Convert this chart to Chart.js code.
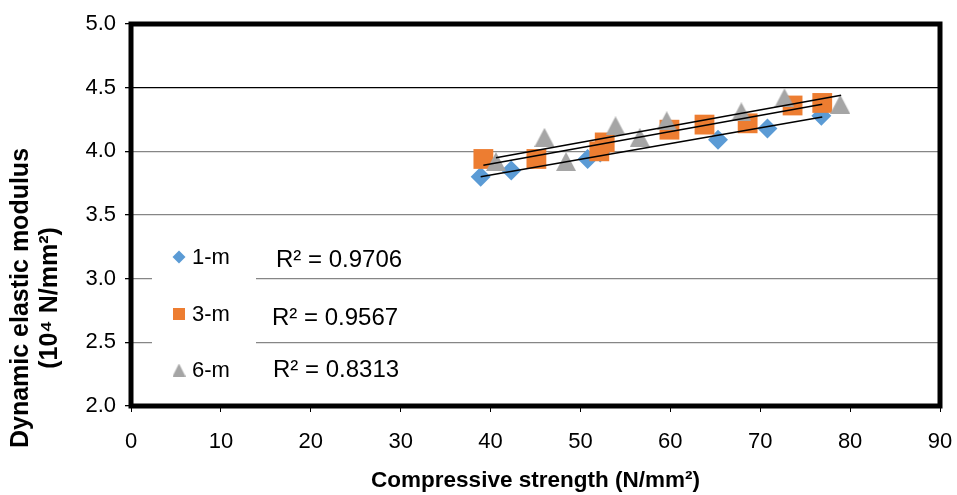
<!DOCTYPE html>
<html>
<head>
<meta charset="utf-8">
<script src="https://cdn.jsdelivr.net/npm/chart.js@4.4.1/dist/chart.umd.min.js"></script>
<style>
  html, body { margin: 0; padding: 0; background: #fff; }
</style>
</head>
<body>
<canvas id="chart" width="957" height="495"></canvas>
<script>
let x_1m = [38.9, 42.3, 50.8, 52.2, 65.3, 70.8, 76.8];
let y_1m = [3.80, 3.85, 3.94, 3.99, 4.09, 4.18, 4.28];

let x_3m = [39.2, 45.1, 52.1, 52.7, 59.9, 63.8, 68.6, 73.6, 76.9];
let y_3m = [3.94, 3.94, 4.00, 4.07, 4.17, 4.21, 4.22, 4.36, 4.38];

let x_6m = [40.6, 46.0, 48.4, 53.9, 56.6, 59.6, 67.9, 72.7, 78.9];
let y_6m = [3.92, 4.11, 3.92, 4.20, 4.11, 4.24, 4.31, 4.42, 4.37];

// trendline ends
let trend_1m = [[38.9, 3.80], [76.9, 4.27]];
let trend_3m = [[39.2, 3.89], [76.9, 4.37]];
let trend_6m = [[40.6, 3.95], [79.0, 4.44]];

let series_names = ['1-m', '3-m', '6-m'];
let r2_labels = ['R² = 0.9706', 'R² = 0.9567', 'R² = 0.8313'];

let x_title = 'Compressive strength (N/mm²)';
let y_title = ['Dynamic elastic modulus', '(10⁴ N/mm²)'];

let blue = '#5b9bd5';
let orange = '#ed7d31';
let gray = '#a5a5a5';
let font = '"Liberation Sans", Arial, sans-serif';

function points(xs, ys) {
  return xs.map((x, i) => ({x: x, y: ys[i]}));
}

function tri_marker(w, h, color) {
  let c = document.createElement('canvas');
  c.width = w;
  c.height = h;
  let g = c.getContext('2d');
  g.fillStyle = color;
  g.beginPath();
  g.moveTo(w / 2, 0);
  g.lineTo(w, h);
  g.lineTo(0, h);
  g.closePath();
  g.fill();
  return c;
}

let tri_big = tri_marker(20, 19, gray);
let tri_small = tri_marker(13, 13, gray);

function trend(pts) {
  return {
    type: 'line',
    data: pts.map(p => ({x: p[0], y: p[1]})),
    borderColor: '#000',
    borderWidth: 1.5,
    pointRadius: 0,
    showLine: true,
    fill: false,
    order: 0
  };
}

// stop the tick labels from pushing the plot area in
function no_pad(s) {
  s.paddingTop = 0;
  s.paddingBottom = 0;
  s.paddingLeft = 0;
  s.paddingRight = 0;
}

// white legend box, thick frame, legend and R2 text
let decor = {
  id: 'decor',
  beforeDatasetsDraw(chart) {
    let ctx = chart.ctx;
    let a = chart.chartArea;
    ctx.save();
    ctx.fillStyle = '#fff';
    ctx.fillRect(152, 232, 104, 166);
    ctx.strokeStyle = '#000';
    ctx.lineWidth = 5;
    ctx.strokeRect(a.left, a.top, a.right - a.left, a.bottom - a.top);
    ctx.restore();
  },
  afterDraw(chart) {
    let ctx = chart.ctx;
    let rows = [257, 314, 370];
    let styles = [
      {pointStyle: 'rectRot', radius: 6.5, rotation: 0, borderWidth: 0, color: blue},
      {pointStyle: 'rect', radius: 8.5, rotation: 0, borderWidth: 0, color: orange},
      {pointStyle: tri_small, radius: 6, rotation: 0, borderWidth: 0, color: gray}
    ];
    let r2_x = [276, 272, 273];
    let r2_y = [260, 318, 370];

    ctx.save();
    for (let i = 0; i < 3; ++i) {
      ctx.fillStyle = styles[i].color;
      Chart.helpers.drawPoint(ctx, styles[i], 179, rows[i]);
      ctx.fillStyle = '#000';
      ctx.font = '22px ' + font;
      ctx.textAlign = 'left';
      ctx.textBaseline = 'middle';
      ctx.fillText(series_names[i], 192, rows[i] + 1);
      ctx.font = '24px ' + font;
      ctx.fillText(r2_labels[i], r2_x[i], r2_y[i]);
    }

    ctx.font = 'bold 25px ' + font;
    ctx.textAlign = 'center';
    ctx.textBaseline = 'middle';
    ctx.translate(21, 298);
    ctx.rotate(-Math.PI / 2);
    ctx.fillText(y_title[0], 0, 0);
    ctx.fillText(y_title[1], 0, 29);
    ctx.restore();
  }
};

let ctx = document.getElementById('chart');

let chart = new Chart(ctx, {
  type: 'scatter',
  data: {
    datasets: [
      trend(trend_1m),
      trend(trend_3m),
      trend(trend_6m),
      {
        label: series_names[2],
        data: points(x_6m, y_6m),
        pointStyle: tri_big,
        pointRadius: 10,
        backgroundColor: gray,
        borderWidth: 0,
        order: 1
      },
      {
        label: series_names[1],
        data: points(x_3m, y_3m),
        pointStyle: 'rect',
        pointRadius: 14,
        backgroundColor: orange,
        borderWidth: 0,
        order: 2
      },
      {
        label: series_names[0],
        data: points(x_1m, y_1m),
        pointStyle: 'rectRot',
        pointRadius: 10,
        backgroundColor: blue,
        borderWidth: 0,
        order: 3
      }
    ]
  },
  options: {
    responsive: false,
    animation: false,
    layout: {
      padding: {left: 0, top: 24, right: 17, bottom: 0}
    },
    plugins: {
      legend: {display: false},
      tooltip: {enabled: false}
    },
    scales: {
      x: {
        type: 'linear',
        min: 0,
        max: 90,
        afterFit: s => { s.height = 89; no_pad(s); },
        border: {display: false},
        grid: {
          drawOnChartArea: false,
          color: '#000',
          tickColor: '#000',
          tickLength: 6
        },
        ticks: {
          stepSize: 10,
          color: '#000',
          padding: 17,
          maxRotation: 0,
          font: {family: font, size: 22}
        },
        title: {
          display: true,
          text: x_title,
          color: '#000',
          font: {family: font, size: 22.5, weight: 'bold'},
          padding: {top: 0, bottom: 1}
        }
      },
      y: {
        type: 'linear',
        min: 2,
        max: 5,
        afterFit: s => { s.width = 131; no_pad(s); },
        border: {display: false},
        grid: {
          color: c => (c.tick && c.tick.value === 4.5) ? '#000' : '#868686',
          tickColor: '#000',
          tickLength: 6,
          lineWidth: 1.3
        },
        ticks: {
          stepSize: 0.5,
          color: '#000',
          padding: 9,
          font: {family: font, size: 22},
          callback: v => v.toFixed(1)
        }
      }
    }
  },
  plugins: [decor]
});
</script>
</body>
</html>
